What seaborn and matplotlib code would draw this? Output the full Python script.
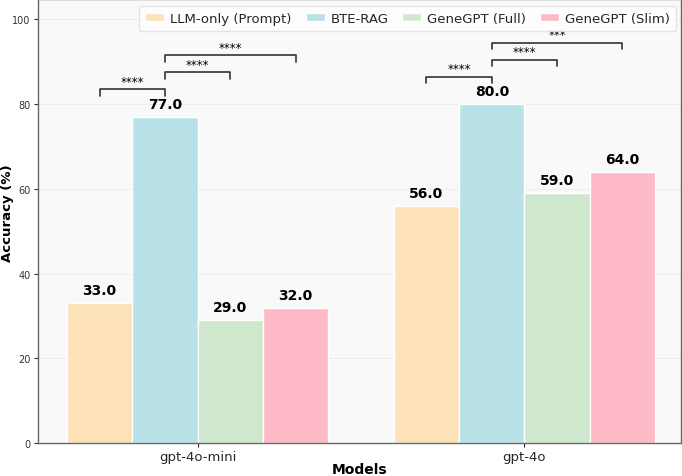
import matplotlib
matplotlib.use("Agg")
import matplotlib.pyplot as plt
import seaborn as sns
import pandas as pd

models = ["gpt-4o-mini", "gpt-4o"]
methods = ["LLM-only (Prompt)", "BTE-RAG", "GeneGPT (Full)", "GeneGPT (Slim)"]
llm_only = [33.0, 56.0]
bte_rag = [77.0, 80.0]
genegpt_full = [29.0, 59.0]
genegpt_slim = [32.0, 64.0]
colors = ["#FDE1B8", "#B8E2E8", "#CFE7CC", "#FDB9C5"]
# significance: (model index, method a, method b, label)
sig_pairs = [
    (0, 0, 1, "****"), (0, 1, 2, "****"), (0, 1, 3, "****"),
    (1, 0, 1, "****"), (1, 1, 2, "****"), (1, 1, 3, "***"),
]

rows = []
for vals, m in zip([llm_only, bte_rag, genegpt_full, genegpt_slim], methods):
    for model, v in zip(models, vals):
        rows.append({"Models": model, "Method": m, "Accuracy": v})
df = pd.DataFrame(rows)

sns.set_style("white")
plt.rcParams["font.family"] = ["DejaVu Sans"]
fig, ax = plt.subplots(figsize=(6.82, 4.77), dpi=100)
fig.subplots_adjust(left=0.055, right=0.999, bottom=0.069, top=0.999)
ax.set_facecolor("#F9F9F9")
ax.yaxis.grid(True, color="#EDEDED", linewidth=0.8)
ax.set_axisbelow(True)

sns.barplot(data=df, x="Models", y="Accuracy", hue="Method", hue_order=methods,
            order=models, palette=colors, edgecolor="white", linewidth=1.0,
            width=0.8, saturation=1, ax=ax)

# value labels
for cont in ax.containers:
    for bar in cont:
        h = bar.get_height()
        ax.text(bar.get_x() + bar.get_width() / 2, h + 1.4, f"{h:.1f}",
                ha="center", va="bottom", fontsize=10, fontweight="bold",
                color="black")

# bar centers
centers = {}
for mi, cont in enumerate(ax.containers):
    for gi, bar in enumerate(cont):
        centers[(gi, mi)] = (bar.get_x() + bar.get_width() / 2, bar.get_height())

all_vals = [llm_only, bte_rag, genegpt_full, genegpt_slim]
counts = {}
for gi, a, b, lab in sig_pairs:
    top = max(v[gi] for v in all_vals)
    k = counts.get(gi, 0)
    counts[gi] = k + 1
    y = top + 6.5 + 4 * k
    x1 = centers[(gi, a)][0]
    x2 = centers[(gi, b)][0]
    ax.plot([x1, x1, x2, x2], [y - 1.5, y, y, y - 1.5], color="#333333", lw=1.2)
    ax.text((x1 + x2) / 2, y + 0.4, lab, ha="center", va="bottom", fontsize=8.5,
            color="black")

ax.set_ylim(0, 104.7)
ax.set_xlim(-0.49, 1.48)
ax.set_ylabel("Accuracy (%)", fontsize=9.5, fontweight="bold", color="black")
ax.set_xlabel("Models", fontsize=10, fontweight="bold", color="black")
ax.yaxis.set_label_coords(-0.036, 0.52)
ax.xaxis.set_label_coords(0.5, -0.043)
ax.tick_params(axis="y", labelsize=7, colors="#333333", length=3, pad=2, left=True)
ax.tick_params(axis="x", labelsize=9.5, length=3, pad=2, bottom=True)
for s in ax.spines.values():
    s.set_color("#666666")
    s.set_linewidth(1.0)

leg = ax.legend(loc="upper right", ncol=4, fontsize=9.5, frameon=True,
                handlelength=1.44, handleheight=0.55, columnspacing=1.06,
                handletextpad=0.45, borderaxespad=0, borderpad=0.45,
                bbox_to_anchor=(676 / 682, 1 - 7 / 477),
                bbox_transform=fig.transFigure)
leg.get_frame().set_facecolor("white")
leg.get_frame().set_edgecolor("#DDDDDD")

fig.savefig("out.png", dpi=100)
